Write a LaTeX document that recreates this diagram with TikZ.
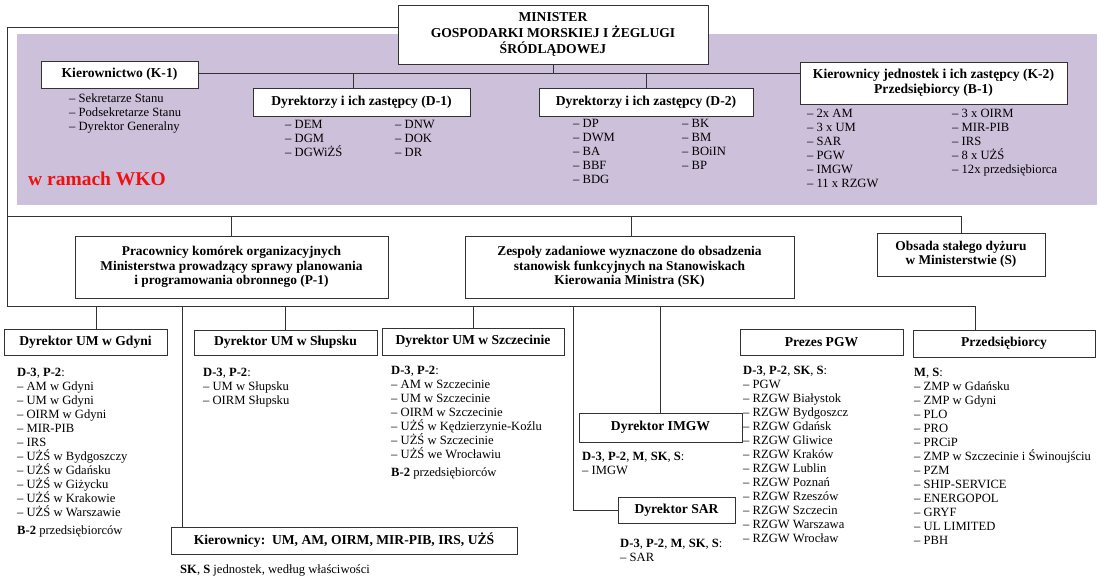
\documentclass[tikz,border=0pt]{standalone}
\usepackage{fontspec}
\setmainfont{Liberation Serif}
\usepackage{xcolor}
\usepackage{tikz}
\definecolor{wkoviolet}{RGB}{205,192,219}
\definecolor{wkored}{RGB}{240,16,16}

\begin{document}
\begin{tikzpicture}[x=1pt, y=-1pt,
  box/.style={draw=black!80, line width=0.9pt, fill=white, inner sep=0pt, align=center,
    font=\bfseries\fontsize{13.6}{15}\selectfont},
  list/.style={anchor=north west, inner sep=0pt, align=left, font=\fontsize{12.6}{14}\selectfont},
  link/.style={draw=black!80, line width=0.9pt}]
\useasboundingbox (0,0) rectangle (1100,583);
% WKO field
\fill[wkoviolet] (17,34) rectangle (1097,205);
\node[font=\bfseries\fontsize{19.5}{22}\selectfont, text=wkored, anchor=west, inner sep=0pt] (wkolabel) at (28,179) {w ramach WKO};
% Top boxes
\node[box, minimum width=310, minimum height=59, font=\bfseries\fontsize{13.6}{16}\selectfont] (min) at (553,34.5) {MINISTER\\GOSPODARKI MORSKIEJ I ŻEGLUGI\\ŚRÓDLĄDOWEJ};
\node[box, minimum width=157, minimum height=27] (k1) at (119.5,74.5) {Kierownictwo (K-1)};
\node[box, minimum width=217, minimum height=28] (d1) at (361.5,102) {Dyrektorzy i ich zastępcy (D-1)};
\node[box, minimum width=214, minimum height=28] (d2) at (646,102) {Dyrektorzy i ich zastępcy (D-2)};
\node[box, minimum width=267, minimum height=42] (k2) at (933.5,83) {Kierownicy jednostek i ich zastępcy (K-2)\\Przedsiębiorcy (B-1)};
\node[list] (k1list) at (69,94) {– Sekretarze Stanu\\– Podsekretarze Stanu\\– Dyrektor Generalny};
\node[list] (d1lista) at (285,120) {– DEM\\– DGM\\– DGWiŻŚ};
\node[list] (d1listb) at (395,120) {– DNW\\– DOK\\– DR};
\node[list] (d2lista) at (573,119) {– DP\\– DWM\\– BA\\– BBF\\– BDG};
\node[list] (d2listb) at (682,119) {– BK\\– BM\\– BOiIN\\– BP};
\node[list] (k2lista) at (807,109) {– 2x AM\\– 3 x UM\\– SAR\\– PGW\\– IMGW\\– 11 x RZGW};
\node[list] (k2listb) at (952,109) {– 3 x OIRM\\– MIR-PIB\\– IRS\\– 8 x UŻŚ\\– 12x przedsiębiorca};
% Middle boxes
\node[box, minimum width=313, minimum height=62, font=\bfseries\fontsize{13.4}{14.5}\selectfont] (p1) at (231.5,267) {Pracownicy komórek organizacyjnych\\Ministerstwa prowadzący sprawy planowania\\i programowania obronnego (P-1)};
\node[box, minimum width=329, minimum height=62, font=\bfseries\fontsize{13.4}{14.5}\selectfont] (sk) at (629.5,267) {Zespoły zadaniowe wyznaczone do obsadzenia\\stanowisk funkcyjnych na Stanowiskach\\Kierowania Ministra (SK)};
\node[box, minimum width=168, minimum height=43, font=\bfseries\fontsize{13.4}{14}\selectfont] (s) at (961,254.5) {Obsada stałego dyżuru\\w Ministerstwie (S)};
% Bottom boxes
\node[box, minimum width=163, minimum height=26] (gdy) at (85.5,342) {Dyrektor UM w Gdyni};
\node[box, minimum width=183, minimum height=25] (slu) at (285.5,342.5) {Dyrektor UM w Słupsku};
\node[box, minimum width=182, minimum height=27] (szc) at (473,341.5) {Dyrektor UM w Szczecinie};
\node[box, minimum width=163, minimum height=29] (imgw) at (660.5,427.5) {Dyrektor IMGW};
\node[box, minimum width=117, minimum height=26] (sar) at (676.5,510) {Dyrektor SAR};
\node[box, minimum width=163, minimum height=26] (pgw) at (821.5,342) {Prezes PGW};
\node[box, minimum width=182, minimum height=27] (prz) at (1004,343.5) {Przedsiębiorcy};
\node[box, minimum width=346, minimum height=27] (kier) at (344,540.5) {Kierownicy:\ \ UM, AM, OIRM, MIR-PIB, IRS, UŻŚ};
\node[list] (gdylist) at (17,368) {\textbf{D-3}, \textbf{P-2}:\\– AM w Gdyni\\– UM w Gdyni\\– OIRM w Gdyni\\– MIR-PIB\\– IRS\\– UŻŚ w Bydgoszczy\\– UŻŚ w Gdańsku\\– UŻŚ w Giżycku\\– UŻŚ w Krakowie\\– UŻŚ w Warszawie\\[4pt]\textbf{B-2} przedsiębiorców};
\node[list] (slulist) at (203,368) {\textbf{D-3}, \textbf{P-2}:\\– UM w Słupsku\\– OIRM Słupsku};
\node[list] (szclist) at (391,366) {\textbf{D-3}, \textbf{P-2}:\\– AM w Szczecinie\\– UM w Szczecinie\\– OIRM w Szczecinie\\– UŻŚ w Kędzierzynie-Koźlu\\– UŻŚ w Szczecinie\\– UŻŚ we Wrocławiu\\[4pt]\textbf{B-2} przedsiębiorców};
\node[list] (imgwlist) at (582,452) {\textbf{D-3}, \textbf{P-2}, \textbf{M}, \textbf{SK}, \textbf{S}:\\– IMGW};
\node[list] (sarlist) at (620,539) {\textbf{D-3}, \textbf{P-2}, \textbf{M}, \textbf{SK}, \textbf{S}:\\– SAR};
\node[list] (pgwlist) at (743,366) {\textbf{D-3}, \textbf{P-2}, \textbf{SK}, \textbf{S}:\\– PGW\\– RZGW Białystok\\– RZGW Bydgoszcz\\– RZGW Gdańsk\\– RZGW Gliwice\\– RZGW Kraków\\– RZGW Lublin\\– RZGW Poznań\\– RZGW Rzeszów\\– RZGW Szczecin\\– RZGW Warszawa\\– RZGW Wrocław};
\node[list] (przlist) at (914,368) {\textbf{M}, \textbf{S}:\\– ZMP w Gdańsku\\– ZMP w Gdyni\\– PLO\\– PRO\\– PRCiP\\– ZMP w Szczecinie i Świnoujściu\\– PZM\\– SHIP-SERVICE\\– ENERGOPOL\\– GRYF\\– UL LIMITED\\– PBH};
\node[list] (kierlist) at (180,565) {\textbf{SK}, \textbf{S} jednostek, według właściwości};
% Connectors
\coordinate (ltop) at (7,27);
\coordinate (lbot) at (7,306);
\coordinate (bus1) at (553,73);
\coordinate (bus2) at (7,216);
\coordinate (sarx) at (573,306);
\draw[link] (min.west |- ltop) -- (ltop) -- (lbot);
\draw[link] (k1.east |- bus1) -- (k2.west |- bus1);
\draw[link] (min.south) -- (bus1);
\draw[link] ([xshift=-8]d1.north) -- ([xshift=-8]d1.north |- bus1);
\draw[link] (d2.north) -- (d2.north |- bus1);
\draw[link] (bus2) -| (s.north);
\draw[link] (p1.north) -- (p1.north |- bus2);
\draw[link] ([xshift=2]sk.north) -- ([xshift=2]sk.north |- bus2);
\draw[link] (lbot) -| ([xshift=-29]prz.north);
\draw[link] ([xshift=11]gdy.north) -- ([xshift=11]gdy.north |- lbot);
\draw[link] (slu.north) -- (slu.north |- lbot);
\draw[link] (szc.north) -- (szc.north |- lbot);
\draw[link] (imgw.north) -- (imgw.north |- lbot);
\draw[link] ([xshift=12]kier.north west) -- ([xshift=12]kier.north west |- lbot);
\draw[link] (sarx) |- (sar.west);
\end{tikzpicture}
\end{document}
